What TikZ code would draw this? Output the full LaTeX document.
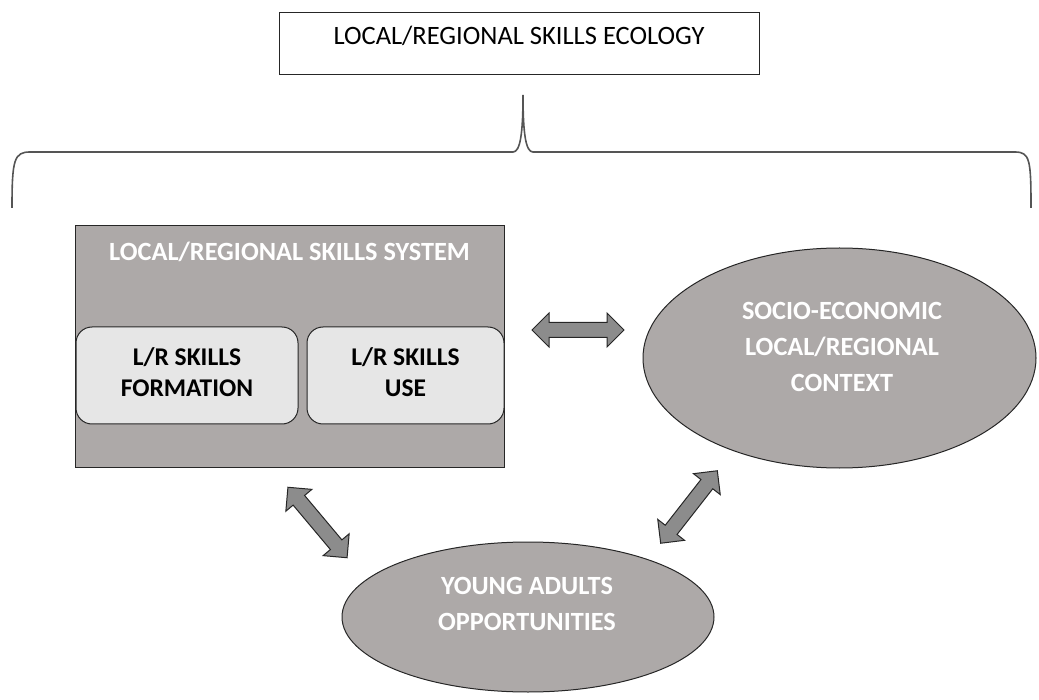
\documentclass[tikz,border=0pt]{standalone}
\usepackage{fontspec}
\setmainfont{Carlito}
\usetikzlibrary{shapes.geometric,shapes.arrows}
\definecolor{boxgray}{HTML}{ADA9A8}
\definecolor{innergray}{HTML}{E6E6E6}
\definecolor{arrowgray}{HTML}{8C8C8C}
\definecolor{edgecol}{HTML}{262626}
\definecolor{bracecol}{HTML}{555555}
\begin{document}
\begin{tikzpicture}[x=1pt,y=-1pt,
  txt/.style={font=\fontsize{26.5}{30}\selectfont, inner sep=0pt},
  wtxt/.style={font=\bfseries\fontsize{26.3}{36}\selectfont, text=white, align=center, inner sep=0pt},
  btxt/.style={font=\bfseries\fontsize{25.5}{31}\selectfont, text=black, align=center, inner sep=0pt},
  inbox/.style={draw=edgecol, line width=1pt, fill=innergray, rounded corners=16pt},
  ell/.style={ellipse, draw=edgecol, line width=1pt, fill=boxgray, inner sep=0pt},
  dbl/.style={double arrow, draw=edgecol, fill=arrowgray, line width=1pt, inner xsep=0pt, inner ysep=7pt,
    minimum width=0pt, minimum height=92pt, double arrow head extend=9.5pt, double arrow tip angle=90}]
\useasboundingbox (0,0) rectangle (1039,700);
% top box
\node[draw=edgecol, line width=1pt, minimum width=480pt, minimum height=62pt, inner sep=0pt] (eco) at (519,44) {};
\node[txt] (ecotext) at (519,36) {LOCAL/REGIONAL SKILLS ECOLOGY};
% brace
\draw[bracecol, line width=1.6pt] (12,208) .. controls (12,160) and (14,152) .. (30,152) -- (513,152)
  .. controls (520,152) and (523,135) .. (523,95)
  .. controls (523,135) and (526,152) .. (533,152) -- (1015,152)
  .. controls (1030,152) and (1031,160) .. (1031,208);
% skills system
\node[draw=edgecol, line width=1pt, fill=boxgray, minimum width=429pt, minimum height=241pt, inner sep=0pt] (sys) at (289.5,346.5) {};
\node[wtxt] (systext) at (289.5,252) {LOCAL/REGIONAL SKILLS SYSTEM};
\node[inbox, minimum width=222pt, minimum height=97pt, inner sep=0pt] (form) at (187,375.5) {};
\node[btxt] (formtext) at (187,372.5) {L/R SKILLS\\FORMATION};
\node[inbox, minimum width=197pt, minimum height=97pt, inner sep=0pt] (use) at (405.5,375.5) {};
\node[btxt] (usetext) at (405.5,372.5) {L/R SKILLS\\USE};
% context ellipse
\node[ell, minimum width=393pt, minimum height=220pt] (ctx) at (839.5,358) {};
\node[wtxt] (ctxtext) at (842,347) {SOCIO-ECONOMIC\\LOCAL/REGIONAL\\CONTEXT};
% young adults ellipse
\node[ell, minimum width=372pt, minimum height=150pt] (ya) at (528,617) {};
\node[wtxt] (yatext) at (527,603.5) {YOUNG ADULTS\\OPPORTUNITIES};
% arrows
\node[dbl] (a1) at (578,330) {};
\node[dbl, rotate=-50] (a2) at (317.5,522.5) {};
\node[dbl, rotate=52] (a3) at (689,507) {};
\end{tikzpicture}
\end{document}
